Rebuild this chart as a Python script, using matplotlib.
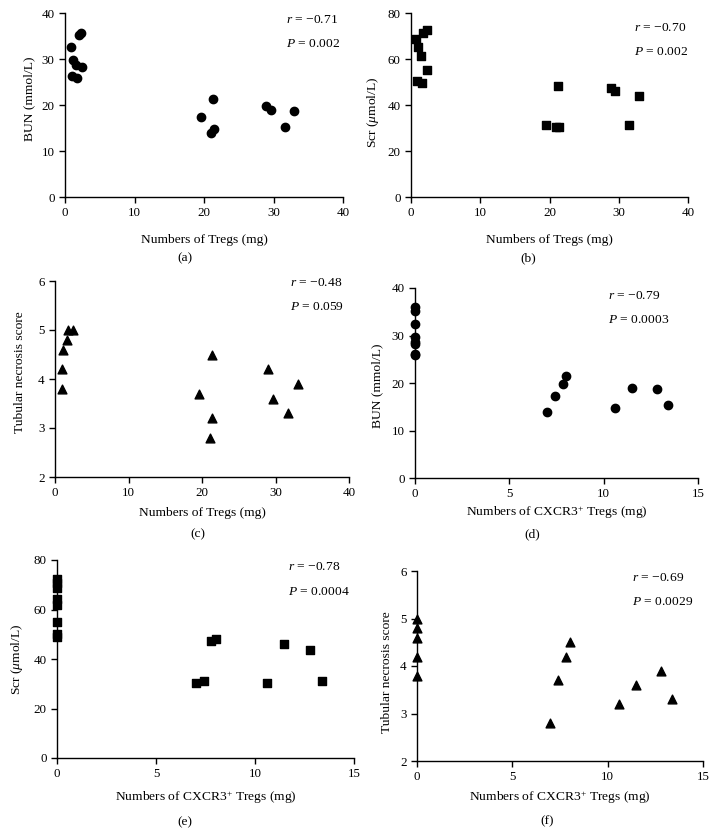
import matplotlib
matplotlib.use("Agg")
import matplotlib.pyplot as plt

plt.rcParams['font.family'] = ['Liberation Serif', 'DejaVu Serif']
plt.rcParams['mathtext.fontset'] = 'custom'
plt.rcParams['mathtext.rm'] = 'Liberation Serif'
plt.rcParams['mathtext.it'] = 'Liberation Serif:italic'
plt.rcParams['font.size'] = 9.7

# ---- data ----
tregs_bun_x = [0.86, 1.15, 0.96, 1.72, 1.58, 2.44, 1.96, 2.3, 19.5, 21.3, 21.0, 21.4, 28.9, 29.6, 31.6, 33.0]
tregs_bun_y = [32.5, 29.7, 26.3, 25.8, 28.6, 28.3, 35.2, 35.7, 17.3, 21.4, 13.9, 14.7, 19.8, 18.9, 15.3, 18.7]

tregs_scr_x = [0.77, 1.0, 1.5, 1.8, 2.26, 2.3, 0.86, 1.63, 21.2, 19.5, 20.9, 21.4, 28.95, 29.5, 32.9, 31.5]
tregs_scr_y = [68.6, 65.1, 61.4, 71.5, 72.5, 55.2, 50.5, 49.5, 48.4, 31.3, 30.5, 30.6, 47.4, 46.2, 43.9, 31.3]

tregs_tn_x = [0.9, 0.99, 1.13, 1.63, 1.8, 2.4, 19.6, 21.3, 21.4, 21.1, 29.0, 29.6, 31.7, 33.0]
tregs_tn_y = [3.8, 4.2, 4.6, 4.8, 5.0, 5.0, 3.7, 4.5, 3.2, 2.8, 4.2, 3.6, 3.3, 3.9]

cx_bun_x = [0, 0, 0, 0, 0, 0, 0, 0, 7.02, 7.41, 7.82, 8.01, 10.62, 11.49, 12.81, 13.41]
cx_bun_y = [36.0, 35.2, 32.5, 29.7, 28.6, 28.3, 26.2, 25.8, 13.9, 17.3, 19.8, 21.4, 14.7, 18.9, 18.7, 15.4]

cx_scr_x = [0, 0, 0, 0, 0, 0, 0, 0, 7.0, 7.41, 7.8, 8.01, 10.6, 11.47, 12.8, 13.39]
cx_scr_y = [72.5, 70.7, 68.5, 64.4, 61.7, 54.9, 50.1, 49.0, 30.3, 31.1, 47.1, 47.9, 30.5, 45.9, 43.6, 31.1]

cx_tn_x = [0, 0, 0, 0, 0, 6.99, 7.41, 7.8, 8.0, 10.6, 11.5, 12.8, 13.4]
cx_tn_y = [5.0, 4.8, 4.6, 4.2, 3.8, 2.8, 3.7, 4.2, 4.5, 3.2, 3.6, 3.9, 3.3]

r_texts = ['−0.71', '−0.70', '−0.48', '−0.79', '−0.78', '−0.69']
p_texts = ['0.002', '0.002', '0.059', '0.0003', '0.0004', '0.0029']
captions = ['(a)', '(b)', '(c)', '(d)', '(e)', '(f)']

W, H = 717, 836
fig = plt.figure(figsize=(W / 100, H / 100), dpi=100)

panels = [
    dict(box=(65, 343, 13, 197), x=tregs_bun_x, y=tregs_bun_y, m='o', s=36,
         xlim=(0, 40), xt=[0, 10, 20, 30, 40], ylim=(0, 40), yt=[0, 10, 20, 30, 40],
         xl='Numbers of Tregs (mg)', yl='BUN (mmol/L)', rpos=(286, 20, 44), cap=(185, 258),
         xly=240, ylx=29, yly=99),
    dict(box=(411, 688, 13, 197), x=tregs_scr_x, y=tregs_scr_y, m='s', s=30,
         xlim=(0, 40), xt=[0, 10, 20, 30, 40], ylim=(0, 80), yt=[0, 20, 40, 60, 80],
         xl='Numbers of Tregs (mg)', yl='Scr ($\\mathit{\\mu}$mol/L)', rpos=(634, 28, 52), cap=(528, 258),
         xly=240, ylx=373, yly=112),
    dict(box=(55, 349, 281, 477), x=tregs_tn_x, y=tregs_tn_y, m='^', s=40,
         xlim=(0, 40), xt=[0, 10, 20, 30, 40], ylim=(2, 6), yt=[2, 3, 4, 5, 6],
         xl='Numbers of Tregs (mg)', yl='Tubular necrosis score', rpos=(290, 283, 307), cap=(198, 534),
         xly=513, ylx=20, yly=372),
    dict(box=(415, 698, 288, 478), x=cx_bun_x, y=cx_bun_y, m='o', s=36,
         xlim=(0, 15), xt=[0, 5, 10, 15], ylim=(0, 40), yt=[0, 10, 20, 30, 40],
         xl='Numbers of CXCR3$^{+}$ Tregs (mg)', yl='BUN (mmol/L)', rpos=(608, 296, 320), cap=(532, 534),
         xly=513, ylx=377, yly=386),
    dict(box=(57, 354, 560, 758), x=cx_scr_x, y=cx_scr_y, m='s', s=30,
         xlim=(0, 15), xt=[0, 5, 10, 15], ylim=(0, 80), yt=[0, 20, 40, 60, 80],
         xl='Numbers of CXCR3$^{+}$ Tregs (mg)', yl='Scr ($\\mathit{\\mu}$mol/L)', rpos=(288, 567, 592), cap=(185, 822),
         xly=798, ylx=17, yly=659),
    dict(box=(417, 703, 571, 761), x=cx_tn_x, y=cx_tn_y, m='^', s=40,
         xlim=(0, 15), xt=[0, 5, 10, 15], ylim=(2, 6), yt=[2, 3, 4, 5, 6],
         xl='Numbers of CXCR3$^{+}$ Tregs (mg)', yl='Tubular necrosis score', rpos=(632, 578, 602), cap=(547, 821),
         xly=798, ylx=387, yly=672),
]

for i, p in enumerate(panels):
    l, r, t, b = p['box']
    ax = fig.add_axes([l / W, 1 - b / H, (r - l) / W, (b - t) / H])
    ax.scatter(p['x'], p['y'], marker=p['m'], s=p['s'], color='black', zorder=3, clip_on=False)
    ax.set_xlim(*p['xlim'])
    ax.set_ylim(*p['ylim'])
    ax.set_xticks(p['xt'])
    ax.set_yticks(p['yt'])
    ax.spines['top'].set_visible(False)
    ax.spines['right'].set_visible(False)
    for sp in ('left', 'bottom'):
        ax.spines[sp].set_linewidth(1.0)
    ax.tick_params(direction='out', length=4, width=1.0, labelsize=9.4)
    ax.set_xlabel(p['xl'], fontsize=9.7, va='center')
    ax.set_ylabel(p['yl'], fontsize=9.7, va='center')
    axw, axh = r - l, b - t
    ax.xaxis.set_label_coords(0.5, -(p['xly'] - b) / axh)
    ax.yaxis.set_label_coords(-(l - p['ylx']) / axw, (b - p['yly']) / axh)
    rx, ry, py = p['rpos']
    fig.text(rx / W, 1 - ry / H, '$r$ = ' + r_texts[i], fontsize=9.7, va='center', ha='left')
    fig.text(rx / W, 1 - py / H, '$P$ = ' + p_texts[i], fontsize=9.7, va='center', ha='left')
    cx, cy = p['cap']
    fig.text(cx / W, 1 - cy / H, captions[i], fontsize=9.7, va='center', ha='center')

fig.savefig('out.png', dpi=100)
